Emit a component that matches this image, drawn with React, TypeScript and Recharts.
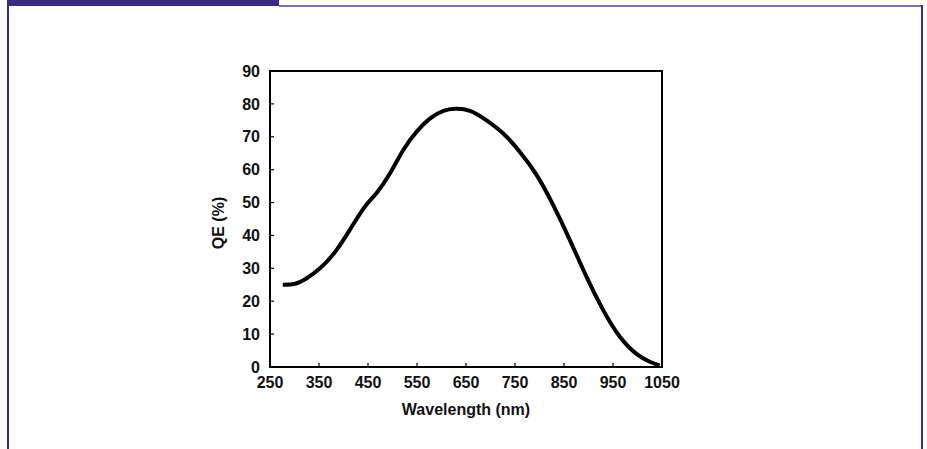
import React from 'react';
import { LineChart, Line, XAxis, YAxis, ReferenceArea } from 'recharts';

// quantum efficiency curve
const wavelengths = [276, 301, 325, 352, 386, 420, 447, 468, 495, 522, 549, 577, 604, 628, 658, 692, 726, 760, 794, 828, 862, 896, 930, 964, 998, 1025, 1045];
const qeValues = [25, 25.3, 27, 30, 35.6, 43.4, 49.4, 53, 58.9, 66, 71.5, 75.6, 77.9, 78.5, 77.9, 75, 71, 65.4, 58.4, 49.2, 38.6, 27.4, 17.3, 9.2, 4, 1.6, 0.5];
const xTicks = [250, 350, 450, 550, 650, 750, 850, 950, 1050];
const yTicks = [0, 10, 20, 30, 40, 50, 60, 70, 80, 90];

const FONT = '"Liberation Sans", Arial, sans-serif';
const PURPLE = '#3b2a84';

export default function App() {
    const data = wavelengths.map((w, i) => ({ wl: w, qe: qeValues[i] }));

    const tickStyle = { fontSize: 16, fontWeight: 'bold', fill: '#111', fontFamily: FONT };

    return (
        <div style={{ position: 'absolute', left: 0, top: 0, width: 927, height: 449, background: '#fff', overflow: 'hidden' }}>
            {/* header tab and frame */}
            <div style={{ position: 'absolute', left: 7, top: 0, width: 272, height: 6, background: PURPLE }} />
            <div style={{ position: 'absolute', left: 279, top: 5, width: 643, height: 2, background: '#7b6db6' }} />
            <div style={{ position: 'absolute', left: 7, top: 0, width: 2, height: 449, background: PURPLE }} />
            <div style={{ position: 'absolute', left: 921, top: 5, width: 2, height: 444, background: PURPLE }} />

            <div style={{ position: 'absolute', left: 0, top: 0 }}>
                <LineChart
                    width={927}
                    height={449}
                    data={data}
                    margin={{ top: 71, right: 265, left: 210, bottom: 52 }}
                >
                    <XAxis
                        dataKey="wl"
                        type="number"
                        domain={[250, 1050]}
                        ticks={xTicks}
                        height={30}
                        tick={tickStyle}
                        tickSize={-4}
                        tickMargin={14}
                        tickLine={{ stroke: '#000', strokeWidth: 1.2 }}
                        axisLine={{ stroke: '#000', strokeWidth: 2 }}
                        interval={0}
                        label={(props: any) => {
                            const vb = props.viewBox;
                            return (
                                <text
                                    x={vb.x + vb.width / 2}
                                    y={415}
                                    textAnchor="middle"
                                    fontSize={16}
                                    fontWeight="bold"
                                    fontFamily={FONT}
                                    fill="#111"
                                >
                                    Wavelength (nm)
                                </text>
                            );
                        }}
                    />
                    <YAxis
                        type="number"
                        domain={[0, 90]}
                        ticks={yTicks}
                        width={60}
                        tick={tickStyle}
                        tickSize={-4}
                        tickMargin={14}
                        tickLine={{ stroke: '#000', strokeWidth: 1.2 }}
                        axisLine={{ stroke: '#000', strokeWidth: 2 }}
                        interval={0}
                        label={(props: any) => {
                            const vb = props.viewBox;
                            const cy = vb.y + vb.height / 2 + 4;
                            return (
                                <text
                                    x={218}
                                    y={cy}
                                    transform={`rotate(-90, 218, ${cy})`}
                                    textAnchor="middle"
                                    dominantBaseline="central"
                                    fontSize={16}
                                    fontWeight="bold"
                                    fontFamily={FONT}
                                    fill="#111"
                                >
                                    QE (%)
                                </text>
                            );
                        }}
                    />
                    {/* plot frame */}
                    <ReferenceArea x1={250} x2={1050} y1={0} y2={90} fill="none" stroke="#000" strokeWidth={2} fillOpacity={0} />
                    <Line
                        type="natural"
                        dataKey="qe"
                        stroke="#000"
                        strokeWidth={4}
                        dot={false}
                        isAnimationActive={false}
                    />
                </LineChart>
            </div>
        </div>
    );
}
